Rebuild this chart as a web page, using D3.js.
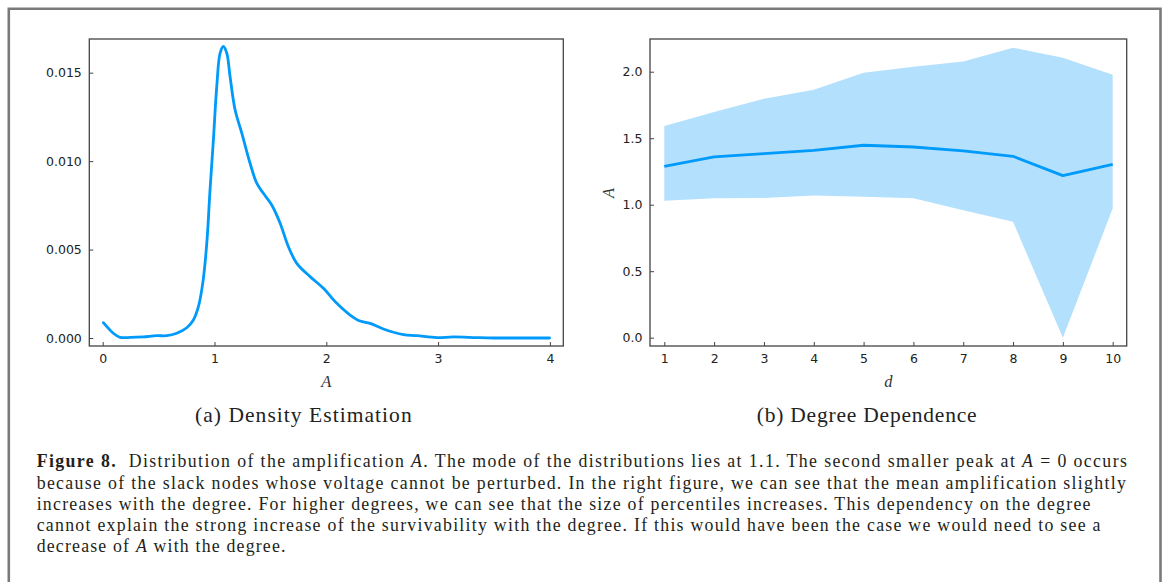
<!DOCTYPE html>
<html>
<head>
<meta charset="utf-8">
<script src="https://cdn.jsdelivr.net/npm/d3@7"></script>
<style>
  html, body { margin: 0; padding: 0; background: #fff; }
  svg { display: block; }
</style>
</head>
<body>
<svg id="fig" width="1167" height="582"></svg>
<script>
// ---------- data ----------
const densityX = [0.006, 0.095, 0.155, 0.25, 0.363, 0.483, 0.573, 0.662, 0.752, 0.811, 0.856, 0.895, 0.931, 0.96, 0.99, 1.02, 1.05, 1.079, 1.11, 1.139, 1.184, 1.244, 1.318, 1.378, 1.437, 1.512, 1.587, 1.661, 1.736, 1.855, 1.974, 2.094, 2.213, 2.302, 2.392, 2.511, 2.69, 2.81, 2.989, 3.138, 3.347, 3.5, 3.75, 3.997];
const densityY = [0.00087, 0.00027, 0.00004, 0.00003, 0.00006, 0.00013, 0.00013, 0.00027, 0.00058, 0.00102, 0.00177, 0.0031, 0.00536, 0.00837, 0.0112, 0.01421, 0.0161, 0.01648, 0.0161, 0.01478, 0.0129, 0.01158, 0.00988, 0.00875, 0.00818, 0.00752, 0.00649, 0.00516, 0.00422, 0.00347, 0.00281, 0.00196, 0.0013, 0.00096, 0.00083, 0.00051, 0.00019, 0.00013, 0.00002, 0.00006, 0.00002, 0.0, 0.0, 0.0];

const degrees = [1, 2, 3, 4, 5, 6, 7, 8, 9, 10];
const meanA  = [1.289, 1.359, 1.384, 1.409, 1.447, 1.434, 1.404, 1.364, 1.219, 1.304];
const lowerA = [1.029, 1.049, 1.051, 1.069, 1.059, 1.049, 0.959, 0.871, 0.0, 0.971];
const upperA = [1.592, 1.697, 1.797, 1.865, 1.992, 2.037, 2.077, 2.18, 2.105, 1.977];

const leftXTicks = [0, 1, 2, 3, 4];
const leftYTicks = [0, 0.005, 0.010, 0.015];
const leftYTickLabels = ["0.000", "0.005", "0.010", "0.015"];
const rightXTicks = [1, 2, 3, 4, 5, 6, 7, 8, 9, 10];
const rightYTicks = [0, 0.5, 1.0, 1.5, 2.0];
const rightYTickLabels = ["0.0", "0.5", "1.0", "1.5", "2.0"];

const captionA = "(a) Density Estimation";
const captionB = "(b) Degree Dependence";
const captionLines = [
  [{t:"Figure 8.", b:true}, {t:"  Distribution of the amplification "}, {t:"A", i:true}, {t:". The mode of the distributions lies at 1.1. The second smaller peak at "}, {t:"A", i:true}, {t:" = 0 occurs"}],
  [{t:"because of the slack nodes whose voltage cannot be perturbed. In the right figure, we can see that the mean amplification slightly"}],
  [{t:"increases with the degree. For higher degrees, we can see that the size of percentiles increases. This dependency on the degree"}],
  [{t:"cannot explain the strong increase of the survivability with the degree. If this would have been the case we would need to see a"}],
  [{t:"decrease of "}, {t:"A", i:true}, {t:" with the degree."}]
];

// ---------- style ----------
const blue = "#009AFA";
const bandFill = "#b3e1fd";
const axisColor = "#444";
const tickFont = "'DejaVu Sans', sans-serif";
const serif = "'Liberation Serif', 'Times New Roman', serif";

const svg = d3.select("#fig");

// outer frame
svg.append("path")
  .attr("d", "M8.8,600 L8.8,8.8 L1160.5,8.8 L1160.5,600")
  .attr("fill", "none").attr("stroke", "#7a7a7a").attr("stroke-width", 2.6);

// ---------- left panel ----------
const L = {x0: 89.3, x1: 563.3, y0: 39, y1: 346};
const xL = d3.scaleLinear().domain([-0.12, 4.12]).range([L.x0, L.x1]);
const yL = d3.scaleLinear().domain([-0.000452, 0.016904]).range([L.y1, L.y0]);

function styleAxis(g) {
  g.select(".domain").remove();
  g.selectAll(".tick line").attr("stroke", axisColor).attr("stroke-width", 1);
  g.selectAll(".tick text").attr("fill", "#222").style("font-family", tickFont).style("font-size", "12.5px");
}

const gL = svg.append("g");
gL.append("g").attr("transform", `translate(0,${L.y1})`)
  .call(d3.axisBottom(xL).tickValues(leftXTicks).tickFormat(d3.format("d")).tickSizeInner(-4).tickSizeOuter(0).tickPadding(8))
  .call(styleAxis);
gL.append("g").attr("transform", `translate(${L.x0},0)`)
  .call(d3.axisLeft(yL).tickValues(leftYTicks).tickFormat((d, i) => leftYTickLabels[i]).tickSizeInner(-4).tickSizeOuter(0).tickPadding(7.5))
  .call(styleAxis);

const densityPts = densityX.map((x, i) => [x, densityY[i]]);
gL.append("path")
  .datum(densityPts)
  .attr("fill", "none").attr("stroke", blue).attr("stroke-width", 2.8)
  .attr("stroke-linejoin", "round").attr("stroke-linecap", "round")
  .attr("d", d3.line().x(d => xL(d[0])).y(d => yL(d[1])).curve(d3.curveCatmullRom.alpha(0.5)));

gL.append("rect").attr("x", L.x0).attr("y", L.y0).attr("width", L.x1 - L.x0).attr("height", L.y1 - L.y0)
  .attr("fill", "none").attr("stroke", axisColor).attr("stroke-width", 1.3);

gL.append("text").attr("x", (L.x0 + L.x1) / 2).attr("y", 387)
  .attr("text-anchor", "middle").style("font-family", serif).style("font-style", "italic").style("font-size", "16.5px")
  .attr("fill", "#333").text("A");

// ---------- right panel ----------
const R = {x0: 650, x1: 1126.7, y0: 39, y1: 346};
const xR = d3.scaleLinear().domain([0.713, 10.281]).range([R.x0, R.x1]);
const yR = d3.scaleLinear().domain([-0.0624, 2.2459]).range([R.y1, R.y0]);

const gR = svg.append("g");
const bandPts = degrees.map((d, i) => ({d, lo: lowerA[i], hi: upperA[i]}));
gR.append("path").datum(bandPts)
  .attr("fill", bandFill).attr("stroke", "none")
  .attr("d", d3.area().x(p => xR(p.d)).y0(p => yR(p.lo)).y1(p => yR(p.hi)));

gR.append("g").attr("transform", `translate(0,${R.y1})`)
  .call(d3.axisBottom(xR).tickValues(rightXTicks).tickFormat(d3.format("d")).tickSizeInner(-4).tickSizeOuter(0).tickPadding(8))
  .call(styleAxis);
gR.append("g").attr("transform", `translate(${R.x0},0)`)
  .call(d3.axisLeft(yR).tickValues(rightYTicks).tickFormat((d, i) => rightYTickLabels[i]).tickSizeInner(-4).tickSizeOuter(0).tickPadding(7.5))
  .call(styleAxis);

gR.append("path").datum(degrees.map((d, i) => [d, meanA[i]]))
  .attr("fill", "none").attr("stroke", blue).attr("stroke-width", 2.8)
  .attr("stroke-linejoin", "round")
  .attr("d", d3.line().x(p => xR(p[0])).y(p => yR(p[1])));

gR.append("rect").attr("x", R.x0).attr("y", R.y0).attr("width", R.x1 - R.x0).attr("height", R.y1 - R.y0)
  .attr("fill", "none").attr("stroke", axisColor).attr("stroke-width", 1.3);

gR.append("text").attr("x", (R.x0 + R.x1) / 2).attr("y", 387)
  .attr("text-anchor", "middle").style("font-family", serif).style("font-style", "italic").style("font-size", "16.5px")
  .attr("fill", "#333").text("d");

gR.append("text").attr("transform", `translate(614,193) rotate(-90)`)
  .attr("text-anchor", "middle").style("font-family", serif).style("font-style", "italic").style("font-size", "16.5px")
  .attr("fill", "#333").text("A");

// ---------- sub captions ----------
function fitCaption(sel, target, baseSize) {
  let w = sel.node().getComputedTextLength();
  let fs = Math.min(baseSize * target / w, 21.5);
  sel.style("font-size", fs + "px");
  w = sel.node().getComputedTextLength();
  const n = sel.text().length;
  sel.style("letter-spacing", ((target - w) / n) + "px");
}
const capA = svg.append("text").attr("x", 195).attr("y", 421.7)
  .style("font-family", serif).style("font-size", "20px").attr("fill", "#222").text(captionA);
fitCaption(capA, 217.7, 20);
const capB = svg.append("text").attr("x", 756.7).attr("y", 421.7)
  .style("font-family", serif).style("font-size", "20px").attr("fill", "#222").text(captionB);
fitCaption(capB, 220.7, 20);

// ---------- figure caption ----------
const baselines = [467.3, 488.6, 509.6, 530.6, 551.8];
const lineEnds = [1128.3, 1127.3, 1091.7, 1101.7, 286.7];
const capX = 36.7;
const capFs = 17.8;
captionLines.forEach((segs, li) => {
  const t = svg.append("text").attr("x", capX).attr("y", baselines[li])
    .style("font-family", serif).style("font-size", capFs + "px").attr("fill", "#231f20")
    .attr("xml:space", "preserve").style("white-space", "pre");
  segs.forEach(s => {
    t.append("tspan").text(s.t)
      .style("font-weight", s.b ? "bold" : null)
      .style("font-style", s.i ? "italic" : null);
  });
  const full = segs.map(s => s.t).join("");
  const n = full.length;
  const w = t.node().getComputedTextLength();
  const target = lineEnds[li] - capX;
  t.style("letter-spacing", ((target - w) / n) + "px");
});
</script>
</body>
</html>
